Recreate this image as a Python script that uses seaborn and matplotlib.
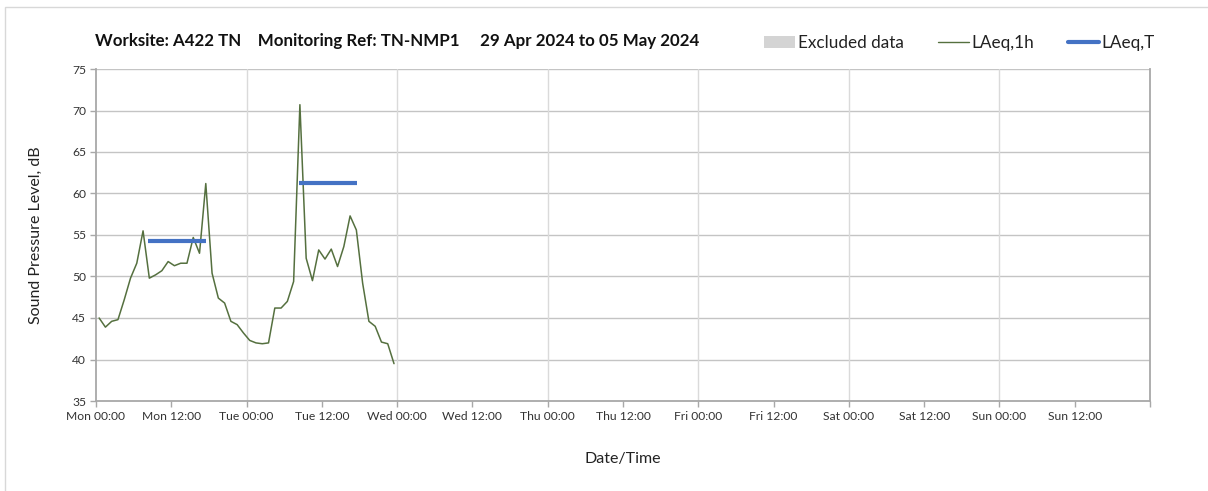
import pandas as pd
import numpy as np
import matplotlib
matplotlib.use("Agg")
import matplotlib.pyplot as plt
from matplotlib.patches import Patch, Rectangle
from matplotlib.lines import Line2D
import seaborn as sns

# --- data ---
week_start = "2024-04-29 00:00"
hour_offset_min = 30  # hourly values sit mid-hour

laeq_1h = [45.0, 43.9, 44.6, 44.8, 47.2, 49.8, 51.6, 55.5, 49.8, 50.2, 50.7, 51.8,
           51.3, 51.6, 51.6, 54.7, 52.8, 61.2, 50.4, 47.4, 46.8, 44.6, 44.2, 43.2,
           42.3, 42.0, 41.9, 42.0, 46.2, 46.2, 47.0, 49.4, 70.7, 52.2, 49.5, 53.2,
           52.1, 53.3, 51.2, 53.6, 57.3, 55.6, 49.2, 44.6, 44.0, 42.1, 41.9, 39.5]

laeq_t_start = ["2024-04-29 08:20", "2024-04-30 08:20"]
laeq_t_end = ["2024-04-29 17:35", "2024-04-30 17:35"]
laeq_t = [54.3, 61.3]

tick_labels = ["Mon 00:00", "Mon 12:00", "Tue 00:00", "Tue 12:00", "Wed 00:00",
               "Wed 12:00", "Thu 00:00", "Thu 12:00", "Fri 00:00", "Fri 12:00",
               "Sat 00:00", "Sat 12:00", "Sun 00:00", "Sun 12:00", ""]

title = "Worksite: A422 TN    Monitoring Ref: TN-NMP1     29 Apr 2024 to 05 May 2024"

# --- build frames ---
t0 = pd.Timestamp(week_start)
hourly = pd.DataFrame({
    "time": t0 + pd.Timedelta(minutes=hour_offset_min) + pd.to_timedelta(np.arange(len(laeq_1h)), unit="h"),
    "level": laeq_1h,
})

sns.set_theme(style="white")
plt.rcParams["font.family"] = ["Lato", "DejaVu Sans"]

fig = plt.figure(figsize=(12.08, 4.91), dpi=100)
ax = fig.add_axes([96 / 1208, 1 - 401 / 491, (1150 - 96) / 1208, (401 - 69) / 491])

green = "#55703f"
blue = "#4472c4"

sns.lineplot(data=hourly, x="time", y="level", ax=ax, color=green, lw=1.1)
for s, e, v in zip(laeq_t_start, laeq_t_end, laeq_t):
    ax.plot([pd.Timestamp(s), pd.Timestamp(e)], [v, v], color=blue, lw=3,
            solid_capstyle="butt")

ax.set_xlim(t0, t0 + pd.Timedelta(days=7))
ax.set_ylim(35, 75)

xt = [t0 + pd.Timedelta(hours=12 * i) for i in range(15)]
ax.set_xticks(xt)
ax.set_xticklabels(tick_labels)
ax.set_yticks(range(35, 80, 5))

# gridlines: horizontal every 5 dB, vertical at each midnight
for y in range(40, 80, 5):
    ax.axhline(y, color="#c4c4c4", lw=1, zorder=0)
for d in range(1, 7):
    ax.axvline(t0 + pd.Timedelta(days=d), color="#dadada", lw=1, zorder=0)

for side in ["left", "bottom", "right"]:
    ax.spines[side].set_color("#a8a8a8")
    ax.spines[side].set_linewidth(1.3)
ax.spines["top"].set_visible(False)

ax.tick_params(axis="both", which="major", direction="out", length=4, width=1,
               color="#a8a8a8", labelsize=8.7, labelcolor="#333333", pad=3,
               bottom=True, left=True)

ax.set_xlabel("Date/Time", fontsize=11.5, color="#222222", labelpad=22)
ax.set_ylabel("Sound Pressure Level, dB", fontsize=11.5, color="#222222", labelpad=21)

fig.text(95 / 1208, 1 - 41 / 491, title, fontsize=12.2, fontweight="bold",
         va="center", ha="left", color="#111111")

handles = [Patch(facecolor="#d4d4d4", edgecolor="none"),
           Line2D([], [], color=green, lw=1),
           Line2D([], [], color=blue, lw=3)]
fig.legend(handles, ["Excluded data", "LAeq,1h", "LAeq,T"], loc="center right",
           bbox_to_anchor=(1170 / 1208, 1 - 43 / 491), ncol=3, frameon=False,
           fontsize=12.3, handlelength=1.8, handletextpad=0.15, columnspacing=2.0,
           labelcolor="#222222")

# outer frame of the chart area
fig.patches.append(Rectangle((5 / 1208, -0.1), 1.2, 1.1 - 7 / 491, transform=fig.transFigure,
                             fill=False, edgecolor="#d8d8d8", lw=1))

fig.savefig("out.png", dpi=100)
